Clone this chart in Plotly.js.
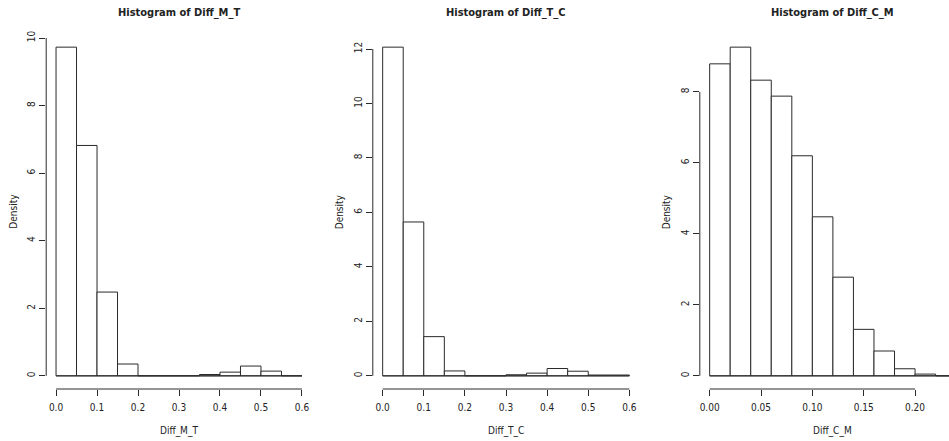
<!DOCTYPE html>
<html>
<head>
<meta charset="utf-8">
<script src="https://cdn.plot.ly/plotly-3.0.1.min.js"></script>
<style>html,body{margin:0;padding:0;background:#fff;}#chart{width:949px;height:441px;}</style>
</head>
<body>
<div id="chart"></div>
<script>
// ---- Data ----
const titles = ["Histogram of Diff_M_T", "Histogram of Diff_T_C", "Histogram of Diff_C_M"];
const xLabels = ["Diff_M_T", "Diff_T_C", "Diff_C_M"];
const yLabel = "Density";

const breaksMT = [0, 0.05, 0.10, 0.15, 0.20, 0.25, 0.30, 0.35, 0.40, 0.45, 0.50, 0.55, 0.60];
const densityMT = [9.73, 6.82, 2.48, 0.35, 0, 0, 0, 0.04, 0.11, 0.29, 0.14, 0];

const breaksTC = [0, 0.05, 0.10, 0.15, 0.20, 0.25, 0.30, 0.35, 0.40, 0.45, 0.50, 0.55, 0.60];
const densityTC = [12.07, 5.65, 1.44, 0.18, 0, 0, 0.04, 0.10, 0.27, 0.17, 0.03, 0.03];

const breaksCM = [0, 0.02, 0.04, 0.06, 0.08, 0.10, 0.12, 0.14, 0.16, 0.18, 0.20, 0.22, 0.24];
const densityCM = [8.79, 9.26, 8.33, 7.88, 6.20, 4.48, 2.78, 1.31, 0.70, 0.20, 0.05, 0];

const xTicksMT = [0, 0.1, 0.2, 0.3, 0.4, 0.5, 0.6];
const xTickTextMT = ["0.0", "0.1", "0.2", "0.3", "0.4", "0.5", "0.6"];
const xTicksTC = [0, 0.1, 0.2, 0.3, 0.4, 0.5, 0.6];
const xTickTextTC = ["0.0", "0.1", "0.2", "0.3", "0.4", "0.5", "0.6"];
const xTicksCM = [0, 0.05, 0.10, 0.15, 0.20];
const xTickTextCM = ["0.00", "0.05", "0.10", "0.15", "0.20"];

const yTicksMT = [0, 2, 4, 6, 8, 10];
const yTicksTC = [0, 2, 4, 6, 8, 10, 12];
const yTicksCM = [0, 2, 4, 6, 8];

// ---- Styling / layout ----
const W = 949, H = 441;
const FONT = "Liberation Sans Narrow, Arial Narrow, DejaVu Sans Condensed, Liberation Sans, sans-serif";
const INK = "#222";
const LINE = "#2a2a2a";

const panels = [
  {breaks: breaksMT, dens: densityMT, xt: xTicksMT, xtt: xTickTextMT, yt: yTicksMT, px: [46.2, 311.8]},
  {breaks: breaksTC, dens: densityTC, xt: xTicksTC, xtt: xTickTextTC, yt: yTicksTC, px: [372.8, 639.2]},
  {breaks: breaksCM, dens: densityCM, xt: xTicksCM, xtt: xTickTextCM, yt: yTicksCM, px: [699.8, 966.0]}
];
const plotTop = 34, plotBottom = 389;
const yDom = [(H - plotBottom) / H, (H - plotTop) / H];

const data = [];
const layout = {
  width: W, height: H,
  margin: {l: 0, r: 0, t: 0, b: 0},
  paper_bgcolor: "#fff", plot_bgcolor: "#fff",
  showlegend: false,
  font: {family: FONT, color: INK, size: 10},
  shapes: [], annotations: []
};

panels.forEach((p, i) => {
  const n = i === 0 ? "" : String(i + 1);
  const xa = "x" + n, ya = "y" + n;
  const lo = p.breaks[0], hi = p.breaks[p.breaks.length - 1];
  const xpad = (hi - lo) * 0.04;
  const ymax = Math.max(...p.dens);
  const ypad = ymax * 0.04;
  let xr = [lo - xpad, hi + xpad];
  let domPx = p.px.slice();
  if (domPx[1] > W) {
    const scale = (xr[1] - xr[0]) / (domPx[1] - domPx[0]);
    xr[1] = xr[0] + (W - domPx[0]) * scale;
    domPx[1] = W;
  }
  const xDom = [domPx[0] / W, domPx[1] / W];

  const mids = [], widths = [];
  for (let k = 0; k < p.dens.length; k++) {
    mids.push((p.breaks[k] + p.breaks[k + 1]) / 2);
    widths.push(p.breaks[k + 1] - p.breaks[k]);
  }
  data.push({
    type: "bar", x: mids, y: p.dens, width: widths,
    xaxis: xa, yaxis: ya,
    marker: {color: "#ffffff", line: {color: LINE, width: 1}},
    hoverinfo: "skip"
  });

  layout["xaxis" + n] = {
    domain: xDom, range: xr, anchor: ya,
    showgrid: false, zeroline: false, showline: false,
    tickmode: "array", tickvals: p.xt, ticktext: p.xtt,
    ticks: "outside", ticklen: 6, tickcolor: LINE, tickwidth: 1,
    ticklabelstandoff: 3,
    tickfont: {family: FONT, size: 10, color: INK},
    fixedrange: true
  };
  layout["yaxis" + n] = {
    domain: yDom, range: [-ypad, ymax + ypad], anchor: xa,
    showgrid: false, zeroline: false, showline: false,
    tickmode: "array", tickvals: p.yt, ticktext: p.yt.map(String),
    tickangle: -90,
    ticks: "outside", ticklen: 6, tickcolor: LINE, tickwidth: 1,
    tickfont: {family: FONT, size: 10, color: INK},
    fixedrange: true
  };

  layout.shapes.push({type: "line", xref: xa, yref: "paper",
    x0: p.xt[0], x1: p.xt[p.xt.length - 1], y0: yDom[0], y1: yDom[0],
    line: {color: LINE, width: 1}});
  layout.shapes.push({type: "line", xref: "paper", yref: ya,
    x0: xDom[0], x1: xDom[0], y0: p.yt[0], y1: p.yt[p.yt.length - 1],
    line: {color: LINE, width: 1}});
  layout.shapes.push({type: "line", xref: xa, yref: ya,
    x0: lo, x1: hi, y0: 0, y1: 0,
    line: {color: LINE, width: 1}});

  const cx = ((p.px[0] + p.px[1]) / 2) / W;
  layout.annotations.push({text: "<b>" + titles[i] + "</b>", xref: "paper", yref: "paper",
    x: cx, y: (H - 12.5) / H, xanchor: "center", yanchor: "middle", showarrow: false,
    font: {family: FONT, size: 11, color: INK}});
  layout.annotations.push({text: xLabels[i], xref: "paper", yref: "paper",
    x: cx, y: (H - 430.5) / H, xanchor: "center", yanchor: "middle", showarrow: false,
    font: {family: FONT, size: 10, color: INK}});
  layout.annotations.push({text: yLabel, xref: "paper", yref: "paper",
    x: (p.px[0] - 33) / W, y: (yDom[0] + yDom[1]) / 2, xanchor: "center", yanchor: "middle",
    textangle: -90, showarrow: false,
    font: {family: FONT, size: 10, color: INK}});
});

Plotly.newPlot("chart", data, layout, {staticPlot: true, displayModeBar: false});
</script>
</body>
</html>
